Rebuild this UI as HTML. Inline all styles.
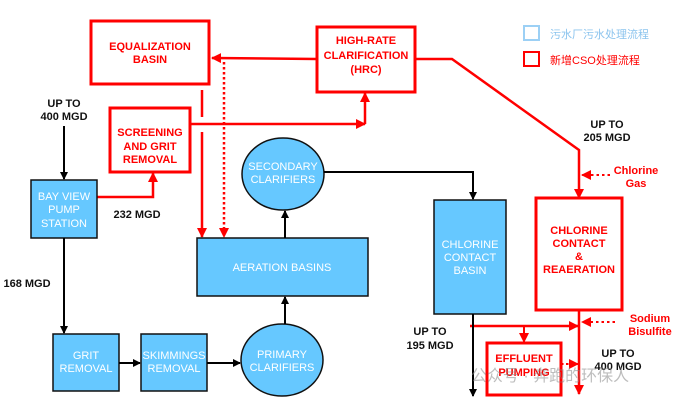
<!DOCTYPE html>
<html><head><meta charset="utf-8"><style>
html,body{margin:0;padding:0;background:#fff;}
svg{display:block;}
text{font-family:"Liberation Sans",Arial,sans-serif;font-weight:bold;font-size:11px;text-anchor:middle;}
.w{fill:#fff;font-weight:normal;}
.r{fill:#f00;}
.k{fill:#111;}
</style></head><body>
<svg width="679" height="401" viewBox="0 0 679 401" xmlns="http://www.w3.org/2000/svg">
<defs>
<marker id="ak" markerWidth="8" markerHeight="8" refX="7" refY="4" orient="auto" markerUnits="userSpaceOnUse"><path d="M0,0 L8,4 L0,8 z" fill="#000"/></marker>
<marker id="ar" markerWidth="10" markerHeight="10" refX="9" refY="5" orient="auto" markerUnits="userSpaceOnUse"><path d="M0,0 L10,5 L0,10 z" fill="#f00"/></marker>
</defs>
<!-- Legend -->
<rect x="524" y="26" width="15" height="14" fill="none" stroke="#9cd0f5" stroke-width="2"/>
<text x="550" y="38" style="text-anchor:start;font-weight:normal;font-size:11px;fill:#8cc4ee;font-family:'Liberation Sans','Noto Sans CJK SC',sans-serif">污水厂污水处理流程</text>
<rect x="524" y="52" width="15" height="14" fill="none" stroke="#f00" stroke-width="2"/>
<text x="550" y="64" style="text-anchor:start;font-weight:normal;font-size:11px;fill:#f00;font-family:'Liberation Sans','Noto Sans CJK SC',sans-serif">新增CSO处理流程</text>

<!-- red boxes -->
<rect x="91" y="21" width="118" height="63" fill="#fff" stroke="#f00" stroke-width="3"/>
<text class="r" x="150" y="50">EQUALIZATION</text><text class="r" x="150" y="63">BASIN</text>
<rect x="317" y="27" width="98" height="65" fill="#fff" stroke="#f00" stroke-width="3"/>
<text class="r" x="366" y="44">HIGH-RATE</text><text class="r" x="366" y="59">CLARIFICATION</text><text class="r" x="366" y="73">(HRC)</text>
<rect x="110" y="108" width="80" height="64" fill="#fff" stroke="#f00" stroke-width="3"/>
<text class="r" x="150" y="136">SCREENING</text><text class="r" x="150" y="150">AND GRIT</text><text class="r" x="150" y="163">REMOVAL</text>
<rect x="536" y="198" width="86" height="112" fill="#fff" stroke="#f00" stroke-width="3"/>
<text class="r" x="579" y="234">CHLORINE</text><text class="r" x="579" y="247">CONTACT</text><text class="r" x="579" y="260">&amp;</text><text class="r" x="579" y="273">REAERATION</text>
<rect x="487" y="343" width="74" height="52" fill="#fff" stroke="#f00" stroke-width="3"/>
<text class="r" x="524" y="362">EFFLUENT</text><text class="r" x="524" y="376">PUMPING</text>

<!-- red connectors -->
<line x1="317" y1="59" x2="212" y2="58" stroke="#f00" stroke-width="2.5" marker-end="url(#ar)"/>
<polyline points="415,59 452,59 579,150 579,198" fill="none" stroke="#f00" stroke-width="2.5" marker-end="url(#ar)"/>
<polyline points="190,124 365,124" fill="none" stroke="#f00" stroke-width="2.5" marker-end="url(#ar)"/>
<polyline points="365,124 365,93" fill="none" stroke="#f00" stroke-width="2.5" marker-end="url(#ar)"/>
<line x1="202" y1="90" x2="202" y2="117" stroke="#f00" stroke-width="2.5"/>
<line x1="202" y1="132" x2="202" y2="237" stroke="#f00" stroke-width="2.5" marker-end="url(#ar)"/>
<line x1="224" y1="62" x2="224" y2="237" stroke="#f00" stroke-width="2.5" stroke-dasharray="2.5,2.5" marker-end="url(#ar)"/>
<polyline points="97,197 153,197 153,173" fill="none" stroke="#f00" stroke-width="2.5" marker-end="url(#ar)"/>
<line x1="610" y1="175" x2="582" y2="175" stroke="#f00" stroke-width="2" stroke-dasharray="2.5,3" marker-end="url(#ar)"/>
<line x1="579" y1="310" x2="579" y2="394" stroke="#f00" stroke-width="2.5" marker-end="url(#ar)"/>
<line x1="470" y1="326" x2="578" y2="326" stroke="#f00" stroke-width="2.5" marker-end="url(#ar)"/>
<line x1="524" y1="326" x2="524" y2="342" stroke="#f00" stroke-width="2" marker-end="url(#ar)"/>
<line x1="561" y1="364" x2="578" y2="364" stroke="#f00" stroke-width="2" stroke-dasharray="2.5,2.5" marker-end="url(#ar)"/>
<line x1="615" y1="322" x2="582" y2="322" stroke="#f00" stroke-width="2" stroke-dasharray="2.5,3" marker-end="url(#ar)"/>
<text class="r" x="636" y="174">Chlorine</text><text class="r" x="636" y="187">Gas</text>
<text class="r" x="650" y="322">Sodium</text><text class="r" x="650" y="335">Bisulfite</text>

<!-- blue shapes -->
<g stroke="#111" stroke-width="1.5" fill="#66c8ff">
<rect x="31" y="180" width="66" height="58"/>
<rect x="53" y="334" width="66" height="57"/>
<rect x="141" y="334" width="66" height="57"/>
<ellipse cx="282" cy="360" rx="41" ry="36"/>
<rect x="197" y="238" width="171" height="58"/>
<ellipse cx="283" cy="174" rx="41" ry="36"/>
<rect x="434" y="200" width="72" height="114"/>
</g>
<text class="w" x="64" y="200">BAY VIEW</text><text class="w" x="64" y="213">PUMP</text><text class="w" x="64" y="227">STATION</text>
<text class="w" x="86" y="359">GRIT</text><text class="w" x="86" y="372">REMOVAL</text>
<text class="w" x="174" y="359">SKIMMINGS</text><text class="w" x="174" y="372">REMOVAL</text>
<text class="w" x="282" y="358">PRIMARY</text><text class="w" x="282" y="371">CLARIFIERS</text>
<text class="w" x="282" y="271">AERATION BASINS</text>
<text class="w" x="283" y="170">SECONDARY</text><text class="w" x="283" y="183">CLARIFIERS</text>
<text class="w" x="470" y="248">CHLORINE</text><text class="w" x="470" y="261">CONTACT</text><text class="w" x="470" y="274">BASIN</text>

<!-- black connectors -->
<g stroke="#000" stroke-width="2" fill="none">
<line x1="64" y1="126" x2="64" y2="179" marker-end="url(#ak)"/>
<line x1="64" y1="238" x2="64" y2="333" marker-end="url(#ak)"/>
<line x1="119" y1="363" x2="140" y2="363" marker-end="url(#ak)"/>
<line x1="207" y1="363" x2="240" y2="363" marker-end="url(#ak)"/>
<line x1="285" y1="324" x2="285" y2="297" marker-end="url(#ak)"/>
<line x1="285" y1="238" x2="285" y2="211" marker-end="url(#ak)"/>
<polyline points="324,172 473,172 473,199" marker-end="url(#ak)"/>
<line x1="473" y1="314" x2="473" y2="396" marker-end="url(#ak)"/>
</g>
<text class="k" x="64" y="107">UP TO</text><text class="k" x="64" y="120">400 MGD</text>
<text class="k" x="137" y="218">232 MGD</text>
<text class="k" x="27" y="287">168 MGD</text>
<text class="k" x="607" y="128">UP TO</text><text class="k" x="607" y="141">205 MGD</text>
<text class="k" x="430" y="335">UP TO</text><text class="k" x="430" y="349">195 MGD</text>
<text class="k" x="618" y="357">UP TO</text><text class="k" x="618" y="370">400 MGD</text>

<!-- watermark -->
<text x="550" y="381" style="font-weight:normal;font-size:16px;fill:#888;opacity:0.55;font-family:'Liberation Sans','Noto Sans CJK SC',sans-serif">公众号 · 奔跑的环保人</text>
</svg>
</body></html>
